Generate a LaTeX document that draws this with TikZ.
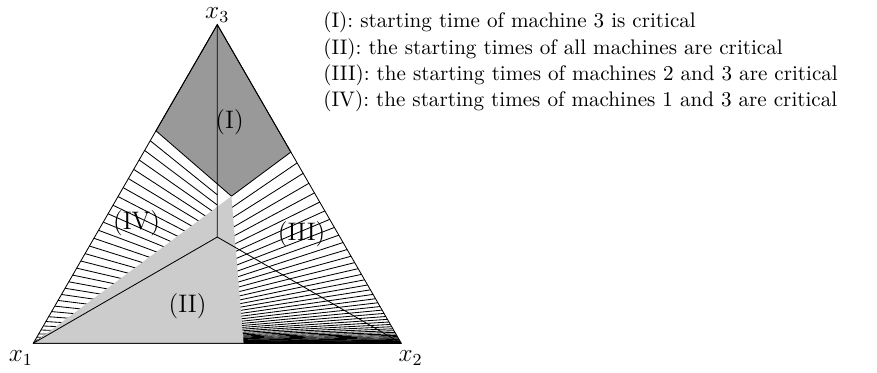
\documentclass[tikz,border=0pt]{standalone}
\usetikzlibrary{calc}
\begin{document}
\begin{tikzpicture}[
  darkreg/.style={draw=black, fill=gray!80},
  lightreg/.style={fill=black!20},
  hatch/.style={black, line width=0.4pt},
  vlbl/.style={inner sep=2pt, font=\large},
  rlbl/.style={inner sep=0pt, font=\large},
  legtxt/.style={inner sep=0pt, align=left, font={\fontsize{10}{12.4}\selectfont}}
]
  \useasboundingbox (-0.555,-0.495) rectangle (14.056,5.719);

  % simplex and the points of the partition
  \coordinate (x1) at (0,0);
  \coordinate (x2) at (6.13,0);
  \coordinate (x3) at (3.065,5.3087);
  \coordinate (C) at (3.065,1.7696);
  \coordinate (L) at ($(x1)!0.6667!(x3)$);
  \coordinate (R) at ($(x2)!0.6!(x3)$);
  \coordinate (T) at (intersection of x2--L and x1--R);
  \coordinate (B) at (intersection of x3--T and x1--x2);

  % region (I)
  \draw[darkreg] (x3) -- (L) -- (T) -- (R) -- cycle;

  % hatching of (IV), rays from x2 cut at the median
  \foreach \k in {1,...,31} {
    \pgfmathsetmacro{\pv}{0.6667*(\k/32)^1.5}
    \draw[hatch] ($(x1)!\pv!(x3)$) -- (3.065,{5.3087*\pv/(2-\pv)});
  }
  % hatching of (III), rays from x1
  \foreach \k in {1,...,51} {
    \pgfmathsetmacro{\pu}{0.6*(\k/52)^3}
    \draw[hatch] (x1) -- ($(x2)!\pu!(x3)$);
  }

  % region (II)
  \fill[lightreg] (x1) -- (T) -- (B) -- cycle;

  % medians and outline
  \draw (C) -- (x1) (C) -- (x2) (C) -- (x3);
  \draw (x1) -- (x2) -- (x3) -- cycle;

  \node[vlbl, anchor=north east, xshift=2pt, yshift=-1.5pt] (lx1) at (x1) {$x_1$};
  \node[vlbl, anchor=north west, xshift=-3.5pt, yshift=-1.5pt] (lx2) at (x2) {$x_2$};
  \node[vlbl, anchor=south, inner sep=1pt] (lx3) at (x3) {$x_3$};

  \node[rlbl] (rI) at (3.27,3.69) {(I)};
  \node[rlbl] (rII) at (2.57,0.61) {(II)};
  \node[rlbl] (rIII) at (4.47,1.81) {(III)};
  \node[rlbl] (rIV) at (1.72,2.0) {(IV)};

  % legend
  \node[legtxt, anchor=north west] (legend) at (4.826,5.525) {%
    (I): starting time of machine 3 is critical\\
    (II): the starting times of all machines are critical\\
    (III): the starting times of machines 2 and 3 are critical\\
    (IV): the starting times of machines 1 and 3 are critical};
\end{tikzpicture}
\end{document}
